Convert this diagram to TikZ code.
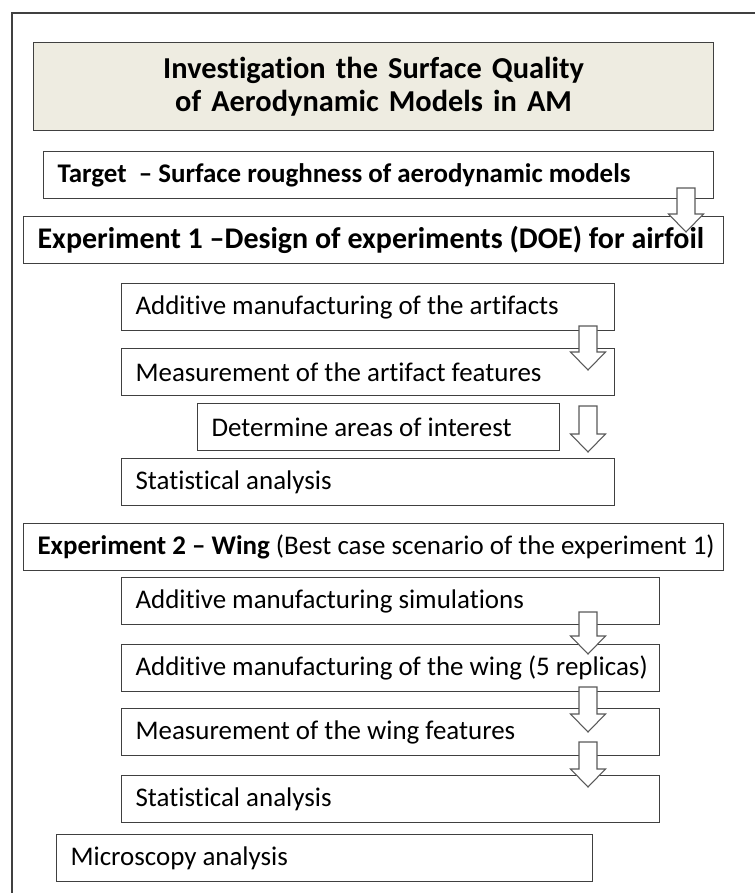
\documentclass[tikz,border=0pt]{standalone}
\usepackage{fontspec}
\setmainfont{Carlito}[Ligatures={NoCommon}]
\usetikzlibrary{positioning}

\begin{document}
\begin{tikzpicture}[x=0.75pt, y=-0.75pt]
    % Define colours
    \definecolor{borderColour}{HTML}{404040}
    \definecolor{titleColour}{HTML}{EEECE1}
    \definecolor{arrowColour}{HTML}{595959}

    \tikzset{
        stepbox/.style={draw=borderColour, line width=0.9pt, anchor=north west,
            inner xsep=10.5pt, inner ysep=0pt, minimum height=35.25pt,
            align=flush left, text width=#1, font=\fontsize{20.2}{22}\selectfont},
        headbox/.style={stepbox=#1, font=\bfseries\fontsize{20.2}{22}\selectfont},
        blockarrow/.style={draw=arrowColour, fill=white, line width=0.8pt}
    }

    % Fix the page size
    \useasboundingbox (0,0) rectangle (754,893);

    % Draw outer frame
    \draw[borderColour, line width=0.9pt] (12,900) -- (12,13) -- (760,13);

    % Title
    \node (title) [headbox=489pt, fill=titleColour, minimum height=66pt, align=center,
        font=\bfseries\fontsize{22.8}{24.75}\selectfont] at (33,42)
        {Investigation the Surface Quality\\of Aerodynamic Models in AM};

    % Target and experiment 1
    \node (target) [headbox=481.5pt] at (43,151) {\mbox{Target~~-- Surface roughness of aerodynamic models}};
    \node (exp1) [headbox=504pt, font=\bfseries\fontsize{22.5}{22}\selectfont] at (23,216)
        {\mbox{Experiment 1 --Design of experiments (DOE) for airfoil}};
    \node (amArt) [stepbox=348.75pt] at (121,283) {\mbox{Additive manufacturing of the artifacts}};
    \node (measArt) [stepbox=348.75pt] at (121,348) {\mbox{Measurement of the artifact features}};
    \node (areas) [stepbox=250.5pt] at (197,403) {\mbox{Determine areas of interest}};
    \node (stat1) [stepbox=348.75pt] at (121,458) {\mbox{Statistical analysis}};

    % Experiment 2
    \node (exp2) [stepbox=504pt] at (23,523)
        {\mbox{\textbf{Experiment 2 -- Wing} (Best case scenario of the experiment 1)}};
    \node (amSim) [stepbox=382.5pt] at (121,577) {\mbox{Additive manufacturing simulations}};
    \node (amWing) [stepbox=382.5pt] at (121,644) {\mbox{Additive manufacturing of the wing (5 replicas)}};
    \node (measWing) [stepbox=382.5pt] at (121,708) {\mbox{Measurement of the wing features}};
    \node (stat2) [stepbox=382.5pt] at (121,775) {\mbox{Statistical analysis}};
    \node (micro) [stepbox=381pt] at (56,834) {\mbox{Microscopy analysis}};

    % Draw hollow block arrows
    \foreach \arrX/\arrTop/\arrTip in {686/188/232, 588/326/370, 588/406/452,
                                       588/612/654, 588/687/732, 588/742/787}
        \filldraw[blockarrow] (\arrX-9,\arrTop) -- (\arrX+9,\arrTop) -- (\arrX+9,\arrTip-18)
            -- (\arrX+17.5,\arrTip-18) -- (\arrX,\arrTip) -- (\arrX-17.5,\arrTip-18)
            -- (\arrX-9,\arrTip-18) -- cycle;

\end{tikzpicture}
\end{document}
